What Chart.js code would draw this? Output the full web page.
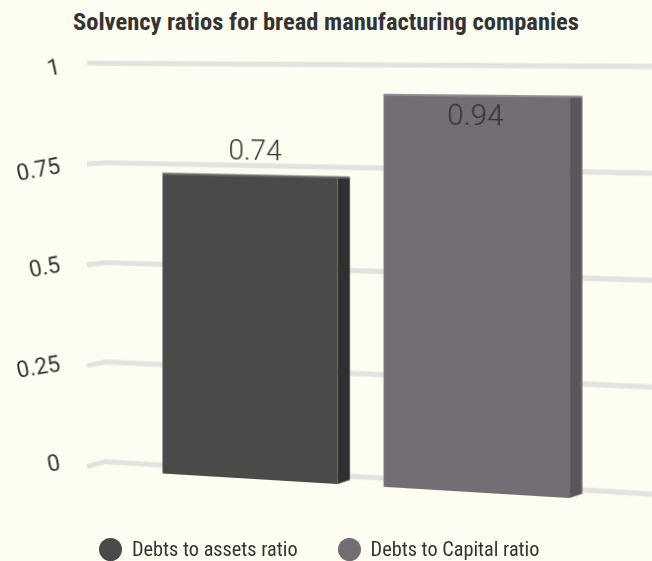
<!DOCTYPE html>
<html>
<head>
<meta charset="utf-8">
<script src="https://cdn.jsdelivr.net/npm/chart.js@4.4.1/dist/chart.umd.min.js"></script>
<style>
  body { margin: 0; background: #fdfef1; }
  #wrap { position: relative; width: 652px; height: 561px; overflow: hidden; }
  #title {
    position: absolute; left: 0; top: 9px; width: 652px; text-align: center;
    font: bold 24.5px "Liberation Sans Narrow", "Roboto Condensed", "DejaVu Sans Condensed", sans-serif;
    line-height: 26px; color: #333;
  }
  #chart { position: absolute; left: 0; top: 0; transform-origin: 0 0; }
  #legend {
    position: absolute; left: 99px; top: 537px; height: 24px;
    display: flex; align-items: center; gap: 40px;
    font: 20.3px "Liberation Sans Narrow", "Roboto Condensed", "DejaVu Sans Condensed", sans-serif;
    color: #333;
  }
  #legend span { display: flex; align-items: center; }
  #legend i { display: inline-block; width: 23px; height: 23px; border-radius: 50%; margin-right: 10px; }
</style>
</head>
<body>
<div id="wrap">
  <div id="title">Solvency ratios for bread manufacturing companies</div>
  <canvas id="chart" width="652" height="561"></canvas>
  <div id="legend"></div>
</div>
<script>
const categories = ["Solvency ratios"];
const seriesNames = ["Debts to assets ratio", "Debts to Capital ratio"];
const debtsToAssets = [0.74];
const debtsToCapital = [0.94];
const yTickLabels = ["0", "0.25", "0.5", "0.75", "1"];

const frontColors = ["#4a4a48", "#736e73"];
const sideColors = ["#32302e", "#5b565b"];
const topColors = ["#6e6e6c", "#8e898e"];

// the back wall is seen in perspective: straight at x = wallLeft, growing to the right
const wallLeft = 105;
const persp = { g: -1.3393e-4, b: -0.002538 };
const depth = 11.5;
// bars stand a bit in front of the wall
const barShift = 4.26;
const barScale = 1.0085;
const tickPad = 45;
const tickTilt = 12;

function wallMatrix(x0, g, b) {
  const A = 1 + x0 * g, C = -x0 * x0 * g, D = b, F = -x0 * b, G = g, I = 1 - x0 * g;
  return `matrix3d(${A},${D},0,${G},0,1,0,0,0,0,1,0,${C},${F},0,${I})`;
}

const canvas = document.getElementById("chart");
canvas.style.transform = wallMatrix(wallLeft, persp.g, persp.b);

const wallPlugin = {
  id: "wall",
  beforeDatasetsDraw(chart) {
    const { ctx, chartArea } = chart;
    const y = chart.scales.y;
    ctx.save();
    ctx.strokeStyle = "#e2e2df";
    ctx.lineWidth = 5;
    y.ticks.forEach(t => {
      const py = y.getPixelForValue(t.value);
      const drop = 6 * (py - chartArea.top) / (chartArea.bottom - chartArea.top);
      ctx.beginPath();
      ctx.moveTo(chartArea.left - 18, py + drop);
      ctx.lineTo(chartArea.left, py);
      ctx.lineTo(chart.width, py);
      ctx.stroke();
    });
    ctx.restore();
    ctx.save();
    ctx.translate(0, barShift);
    ctx.scale(1, barScale);
  },
  afterDatasetsDraw(chart) {
    const ctx = chart.ctx;
    chart.data.datasets.forEach((ds, i) => {
      const bar = chart.getDatasetMeta(i).data[0];
      const right = bar.x + bar.width / 2;
      ctx.fillStyle = sideColors[i];
      ctx.beginPath();
      ctx.moveTo(right, bar.y);
      ctx.lineTo(right + depth, bar.y + 0.5);
      ctx.lineTo(right + depth, bar.base - 4.5);
      ctx.lineTo(right, bar.base);
      ctx.closePath();
      ctx.fill();
      ctx.fillStyle = topColors[i];
      ctx.fillRect(bar.x - bar.width / 2, bar.y - 1, bar.width + depth, 2);
    });
    ctx.restore();

    ctx.save();
    ctx.font = "300 27px Roboto";
    ctx.fillStyle = "#333";
    ctx.textAlign = "center";
    ctx.textBaseline = "middle";
    chart.data.datasets.forEach((ds, i) => {
      const bar = chart.getDatasetMeta(i).data[0];
      const top = bar.y * barScale + barShift;
      const text = String(ds.data[0]);
      if (top - 40 < chart.chartArea.top) {
        ctx.fillText(text, bar.x, top + 21);
      } else {
        ctx.fillText(text, bar.x + depth / 2, top - 22);
      }
    });
    ctx.restore();
  },
  afterDraw(chart) {
    // tilted tick labels on the side wall
    const ctx = chart.ctx;
    const y = chart.scales.y;
    ctx.save();
    ctx.font = "400 23px Roboto";
    ctx.fillStyle = "#333";
    ctx.textAlign = "right";
    ctx.textBaseline = "middle";
    y.ticks.forEach((t, i) => {
      ctx.save();
      ctx.translate(y.right - tickPad, y.getPixelForValue(t.value) + 5);
      ctx.rotate(-tickTilt * Math.PI / 180);
      ctx.fillText(yTickLabels[i], 0, 0);
      ctx.restore();
    });
    ctx.restore();
  }
};

Chart.defaults.font.family = "Roboto";

const chart = new Chart(canvas, {
  type: "bar",
  data: {
    labels: categories,
    datasets: [
      { label: seriesNames[0], data: debtsToAssets, backgroundColor: frontColors[0] },
      { label: seriesNames[1], data: debtsToCapital, backgroundColor: frontColors[1] }
    ]
  },
  options: {
    responsive: false,
    animation: false,
    barPercentage: 0.797,
    categoryPercentage: 0.856,
    layout: { padding: { top: 63.2, right: 52.8, bottom: 99.3, left: 0 } },
    plugins: {
      legend: { display: false },
      title: { display: false },
      tooltip: { enabled: false }
    },
    scales: {
      x: { display: false },
      y: {
        min: 0,
        max: 1,
        grid: { display: false, drawTicks: false },
        border: { display: false },
        ticks: { stepSize: 0.25, display: false },
        afterFit: s => { s.width = wallLeft; }
      }
    }
  },
  plugins: [wallPlugin]
});

const legend = document.getElementById("legend");
chart.data.datasets.forEach(ds => {
  const item = document.createElement("span");
  const dot = document.createElement("i");
  dot.style.background = ds.backgroundColor;
  item.appendChild(dot);
  item.appendChild(document.createTextNode(ds.label));
  legend.appendChild(item);
});
</script>
</body>
</html>
